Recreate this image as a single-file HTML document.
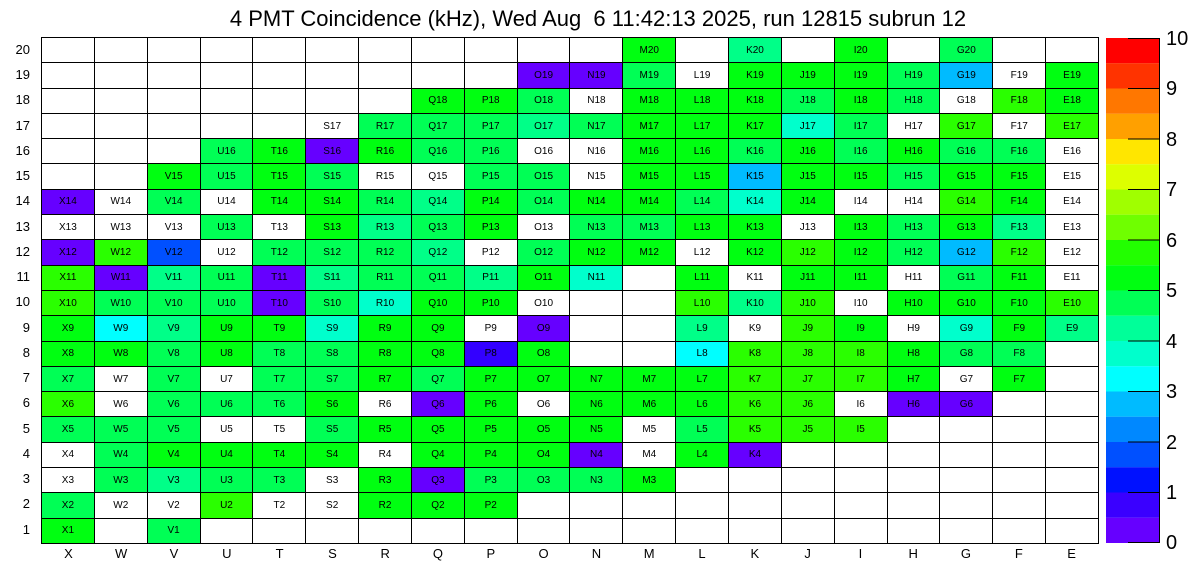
<!DOCTYPE html><html><head><meta charset="utf-8"><style>
body{margin:0;width:1196px;height:572px;background:#fff;font-family:"Liberation Sans",sans-serif;position:relative;overflow:hidden}
#t{position:absolute;top:6px;left:0;width:1196px;text-align:center;font-size:22px}
#g{position:absolute;left:41px;top:37px;width:1056px;height:505px;background:#000;padding:1px;display:grid;grid-template-columns:repeat(20,1fr);grid-template-rows:repeat(20,1fr);gap:1px}
#g i{font-style:normal;background:#fff;font-size:10px;display:flex;align-items:center;justify-content:center;color:#000}
#g .P{background:#6600ff}#g .p{background:#3300ff}#g .B{background:#0050ff}#g .b{background:#00bbff}#g .c{background:#00ffff}#g .C{background:#00ffcc}#g .T{background:#00ff88}#g .G{background:#00ff55}#g .g{background:#00ff11}#g .L{background:#2aff00}
.yl{position:absolute;left:0;width:30px;text-align:right;font-size:13px}
.xl{position:absolute;top:546px;width:52.8px;text-align:center;font-size:13px}
#cb{position:absolute;left:1106px;top:38px;width:54px;height:505px}
.cl{position:absolute;left:1166px;font-size:20px}
</style></head><body>
<div id="t">4 PMT Coincidence (kHz), Wed Aug&nbsp; 6 11:42:13 2025, run 12815 subrun 12</div>
<div id="g">
<i></i><i></i><i></i><i></i><i></i><i></i><i></i><i></i><i></i><i></i><i></i><i class="g">M20</i><i></i><i class="T">K20</i><i></i><i class="g">I20</i><i></i><i class="G">G20</i><i></i><i></i>
<i></i><i></i><i></i><i></i><i></i><i></i><i></i><i></i><i></i><i class="P">O19</i><i class="P">N19</i><i class="G">M19</i><i>L19</i><i class="g">K19</i><i class="g">J19</i><i class="g">I19</i><i class="G">H19</i><i class="b">G19</i><i>F19</i><i class="g">E19</i>
<i></i><i></i><i></i><i></i><i></i><i></i><i></i><i class="g">Q18</i><i class="g">P18</i><i class="G">O18</i><i>N18</i><i class="g">M18</i><i class="g">L18</i><i class="g">K18</i><i class="G">J18</i><i class="g">I18</i><i class="G">H18</i><i>G18</i><i class="L">F18</i><i class="g">E18</i>
<i></i><i></i><i></i><i></i><i></i><i>S17</i><i class="G">R17</i><i class="G">Q17</i><i class="G">P17</i><i class="T">O17</i><i class="G">N17</i><i class="g">M17</i><i class="g">L17</i><i class="g">K17</i><i class="C">J17</i><i class="G">I17</i><i>H17</i><i class="L">G17</i><i>F17</i><i class="L">E17</i>
<i></i><i></i><i></i><i class="G">U16</i><i class="g">T16</i><i class="P">S16</i><i class="g">R16</i><i class="G">Q16</i><i class="G">P16</i><i>O16</i><i>N16</i><i class="g">M16</i><i class="g">L16</i><i class="G">K16</i><i class="g">J16</i><i class="G">I16</i><i class="g">H16</i><i class="G">G16</i><i class="G">F16</i><i>E16</i>
<i></i><i></i><i class="g">V15</i><i class="G">U15</i><i class="g">T15</i><i class="G">S15</i><i>R15</i><i>Q15</i><i class="G">P15</i><i class="G">O15</i><i>N15</i><i class="g">M15</i><i class="g">L15</i><i class="b">K15</i><i class="g">J15</i><i class="g">I15</i><i class="G">H15</i><i class="g">G15</i><i class="g">F15</i><i>E15</i>
<i class="P">X14</i><i>W14</i><i class="G">V14</i><i>U14</i><i class="g">T14</i><i class="g">S14</i><i class="G">R14</i><i class="T">Q14</i><i class="g">P14</i><i class="G">O14</i><i class="g">N14</i><i class="g">M14</i><i class="G">L14</i><i class="C">K14</i><i class="g">J14</i><i>I14</i><i>H14</i><i class="L">G14</i><i class="g">F14</i><i>E14</i>
<i>X13</i><i>W13</i><i>V13</i><i class="G">U13</i><i>T13</i><i class="g">S13</i><i class="T">R13</i><i class="G">Q13</i><i class="g">P13</i><i>O13</i><i class="G">N13</i><i class="G">M13</i><i class="g">L13</i><i class="g">K13</i><i>J13</i><i class="g">I13</i><i class="G">H13</i><i class="g">G13</i><i class="T">F13</i><i>E13</i>
<i class="P">X12</i><i class="L">W12</i><i class="B">V12</i><i>U12</i><i class="G">T12</i><i class="G">S12</i><i class="G">R12</i><i class="T">Q12</i><i>P12</i><i class="G">O12</i><i class="g">N12</i><i class="g">M12</i><i>L12</i><i class="g">K12</i><i class="L">J12</i><i class="g">I12</i><i class="G">H12</i><i class="b">G12</i><i class="L">F12</i><i>E12</i>
<i class="L">X11</i><i class="P">W11</i><i class="T">V11</i><i class="G">U11</i><i class="P">T11</i><i class="T">S11</i><i class="G">R11</i><i class="G">Q11</i><i class="T">P11</i><i class="g">O11</i><i class="C">N11</i><i></i><i class="g">L11</i><i>K11</i><i class="g">J11</i><i class="g">I11</i><i>H11</i><i class="G">G11</i><i class="g">F11</i><i>E11</i>
<i class="L">X10</i><i class="G">W10</i><i class="G">V10</i><i class="G">U10</i><i class="P">T10</i><i class="G">S10</i><i class="C">R10</i><i class="g">Q10</i><i class="g">P10</i><i>O10</i><i></i><i></i><i class="L">L10</i><i class="T">K10</i><i class="L">J10</i><i>I10</i><i class="g">H10</i><i class="g">G10</i><i class="g">F10</i><i class="L">E10</i>
<i class="g">X9</i><i class="c">W9</i><i class="T">V9</i><i class="g">U9</i><i class="g">T9</i><i class="C">S9</i><i class="g">R9</i><i class="g">Q9</i><i>P9</i><i class="P">O9</i><i></i><i></i><i class="T">L9</i><i>K9</i><i class="L">J9</i><i class="g">I9</i><i>H9</i><i class="C">G9</i><i class="g">F9</i><i class="T">E9</i>
<i class="g">X8</i><i class="g">W8</i><i class="G">V8</i><i class="g">U8</i><i class="G">T8</i><i class="G">S8</i><i class="g">R8</i><i class="g">Q8</i><i class="p">P8</i><i class="g">O8</i><i></i><i></i><i class="c">L8</i><i class="L">K8</i><i class="L">J8</i><i class="L">I8</i><i class="g">H8</i><i class="G">G8</i><i class="G">F8</i><i></i>
<i class="G">X7</i><i>W7</i><i class="G">V7</i><i>U7</i><i class="G">T7</i><i class="G">S7</i><i class="g">R7</i><i class="G">Q7</i><i class="g">P7</i><i class="g">O7</i><i class="g">N7</i><i class="g">M7</i><i class="g">L7</i><i class="L">K7</i><i class="L">J7</i><i class="L">I7</i><i class="g">H7</i><i>G7</i><i class="g">F7</i><i></i>
<i class="L">X6</i><i>W6</i><i class="G">V6</i><i class="G">U6</i><i class="G">T6</i><i class="g">S6</i><i>R6</i><i class="P">Q6</i><i class="g">P6</i><i>O6</i><i class="g">N6</i><i class="g">M6</i><i class="g">L6</i><i class="L">K6</i><i class="L">J6</i><i>I6</i><i class="P">H6</i><i class="P">G6</i><i></i><i></i>
<i class="G">X5</i><i class="G">W5</i><i class="G">V5</i><i>U5</i><i>T5</i><i class="G">S5</i><i class="g">R5</i><i class="g">Q5</i><i class="g">P5</i><i class="g">O5</i><i class="g">N5</i><i>M5</i><i class="G">L5</i><i class="L">K5</i><i class="L">J5</i><i class="L">I5</i><i></i><i></i><i></i><i></i>
<i>X4</i><i class="G">W4</i><i class="g">V4</i><i class="g">U4</i><i class="g">T4</i><i class="g">S4</i><i>R4</i><i class="g">Q4</i><i class="g">P4</i><i class="g">O4</i><i class="P">N4</i><i>M4</i><i class="g">L4</i><i class="P">K4</i><i></i><i></i><i></i><i></i><i></i><i></i>
<i>X3</i><i class="G">W3</i><i class="T">V3</i><i class="G">U3</i><i class="G">T3</i><i>S3</i><i class="g">R3</i><i class="P">Q3</i><i class="G">P3</i><i class="G">O3</i><i class="G">N3</i><i class="g">M3</i><i></i><i></i><i></i><i></i><i></i><i></i><i></i><i></i>
<i class="G">X2</i><i>W2</i><i>V2</i><i class="L">U2</i><i>T2</i><i>S2</i><i class="g">R2</i><i class="g">Q2</i><i class="g">P2</i><i></i><i></i><i></i><i></i><i></i><i></i><i></i><i></i><i></i><i></i><i></i>
<i class="g">X1</i><i></i><i class="G">V1</i><i></i><i></i><i></i><i></i><i></i><i></i><i></i><i></i><i></i><i></i><i></i><i></i><i></i><i></i><i></i><i></i><i></i>
</div>
<div class="yl" style="top:42px">20</div><div class="yl" style="top:67px">19</div><div class="yl" style="top:92px">18</div><div class="yl" style="top:118px">17</div><div class="yl" style="top:143px">16</div><div class="yl" style="top:168px">15</div><div class="yl" style="top:193px">14</div><div class="yl" style="top:219px">13</div><div class="yl" style="top:244px">12</div><div class="yl" style="top:269px">11</div><div class="yl" style="top:294px">10</div><div class="yl" style="top:320px">9</div><div class="yl" style="top:345px">8</div><div class="yl" style="top:370px">7</div><div class="yl" style="top:395px">6</div><div class="yl" style="top:421px">5</div><div class="yl" style="top:446px">4</div><div class="yl" style="top:471px">3</div><div class="yl" style="top:496px">2</div><div class="yl" style="top:522px">1</div>
<div class="xl" style="left:42px">X</div><div class="xl" style="left:94.8px">W</div><div class="xl" style="left:147.6px">V</div><div class="xl" style="left:200.4px">U</div><div class="xl" style="left:253.2px">T</div><div class="xl" style="left:306px">S</div><div class="xl" style="left:358.8px">R</div><div class="xl" style="left:411.6px">Q</div><div class="xl" style="left:464.4px">P</div><div class="xl" style="left:517.2px">O</div><div class="xl" style="left:570px">N</div><div class="xl" style="left:622.8px">M</div><div class="xl" style="left:675.6px">L</div><div class="xl" style="left:728.4px">K</div><div class="xl" style="left:781.2px">J</div><div class="xl" style="left:834px">I</div><div class="xl" style="left:886.8px">H</div><div class="xl" style="left:939.6px">G</div><div class="xl" style="left:992.4px">F</div><div class="xl" style="left:1045.2px">E</div>
<svg id="cb" viewBox="0 0 54 505" preserveAspectRatio="none">
<rect x="0" y="0" width="54" height="25.3" fill="#ff0000"/><rect x="0" y="25.25" width="54" height="25.3" fill="#ff3300"/><rect x="0" y="50.5" width="54" height="25.3" fill="#ff7700"/><rect x="0" y="75.75" width="54" height="25.3" fill="#ffa000"/><rect x="0" y="101" width="54" height="25.3" fill="#ffe600"/><rect x="0" y="126.25" width="54" height="25.3" fill="#ddff00"/><rect x="0" y="151.5" width="54" height="25.3" fill="#a0ff00"/><rect x="0" y="176.75" width="54" height="25.3" fill="#6fff00"/><rect x="0" y="202" width="54" height="25.3" fill="#22ff00"/><rect x="0" y="227.25" width="54" height="25.3" fill="#00ff11"/><rect x="0" y="252.5" width="54" height="25.3" fill="#00ff55"/><rect x="0" y="277.75" width="54" height="25.3" fill="#00ff99"/><rect x="0" y="303" width="54" height="25.3" fill="#00ffcc"/><rect x="0" y="328.25" width="54" height="25.3" fill="#00ffff"/><rect x="0" y="353.5" width="54" height="25.3" fill="#00bbff"/><rect x="0" y="378.75" width="54" height="25.3" fill="#0088ff"/><rect x="0" y="404" width="54" height="25.3" fill="#0050ff"/><rect x="0" y="429.25" width="54" height="25.3" fill="#0011ff"/><rect x="0" y="454.5" width="54" height="25.3" fill="#3a00ff"/><rect x="0" y="479.75" width="54" height="25.3" fill="#6600ff"/>
<line x1="53.5" y1="0" x2="53.5" y2="505" stroke="#000" stroke-width="1"/>
<g stroke="#000" stroke-width="1"><line x1="22" y1="0.5" x2="54" y2="0.5"/><line x1="22" y1="50.5" x2="54" y2="50.5"/><line x1="22" y1="101" x2="54" y2="101"/><line x1="22" y1="151.5" x2="54" y2="151.5"/><line x1="22" y1="202" x2="54" y2="202"/><line x1="22" y1="252.5" x2="54" y2="252.5"/><line x1="22" y1="303" x2="54" y2="303"/><line x1="22" y1="353.5" x2="54" y2="353.5"/><line x1="22" y1="404" x2="54" y2="404"/><line x1="22" y1="454.5" x2="54" y2="454.5"/><line x1="22" y1="504.5" x2="54" y2="504.5"/></g>
</svg>
<div class="cl" style="top:28px">10</div><div class="cl" style="top:78px">9</div><div class="cl" style="top:129px">8</div><div class="cl" style="top:179px">7</div><div class="cl" style="top:230px">6</div><div class="cl" style="top:280px">5</div><div class="cl" style="top:331px">4</div><div class="cl" style="top:381px">3</div><div class="cl" style="top:432px">2</div><div class="cl" style="top:482px">1</div><div class="cl" style="top:532px">0</div>
</body></html>
